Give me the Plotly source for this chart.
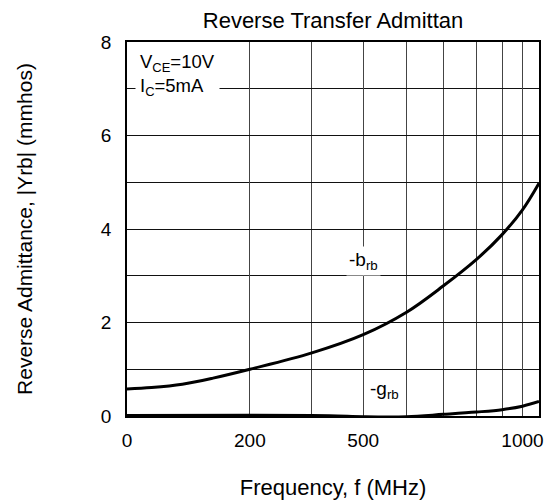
import numpy as np
import plotly.graph_objects as go

# Non-uniform frequency scale of the original chart (gridline frequencies and their relative positions)
grid_freq = [0, 200, 300, 500, 600, 700, 800, 900, 1000, 1100]
grid_pos = [0, 0.2983, 0.4487, 0.5733, 0.6785, 0.7673, 0.8483, 0.9104, 0.9599, 1.0]
x_tick_freq = [0, 200, 500, 1000]
x_tick_text = ["0", "200", "500", "1000"]

# -b_rb curve (mmhos)
freq_b = [0, 40, 90, 140, 200, 300, 500, 600, 700, 800, 900, 1000, 1100]
brb = [0.58, 0.61, 0.68, 0.81, 1.0, 1.35, 1.74, 2.22, 2.78, 3.35, 3.88, 4.41, 4.98]

# -g_rb curve (mmhos)
freq_g = [0, 200, 300, 400, 500, 600, 700, 800, 900, 1000, 1100]
grb = [0.01, 0.015, 0.01, 0.0, -0.015, -0.015, 0.035, 0.085, 0.135, 0.21, 0.31]


def fscale(f):
    return np.interp(f, grid_freq, grid_pos)


FONT = "Liberation Sans, Arial, sans-serif"

fig = go.Figure()
fig.add_trace(go.Scatter(x=fscale(freq_b), y=brb, mode="lines",
                         line=dict(color="black", width=3, shape="spline", smoothing=1.0),
                         showlegend=False, hoverinfo="skip"))
fig.add_trace(go.Scatter(x=fscale(freq_g), y=grb, mode="lines",
                         line=dict(color="black", width=3, shape="spline"),
                         showlegend=False, hoverinfo="skip", cliponaxis=False))

# page body adds an 8px offset, so the figure is 8px smaller on each axis
fig.update_layout(
    width=544, height=492,
    margin=dict(l=119, r=13, t=34, b=84, autoexpand=False),
    paper_bgcolor="white", plot_bgcolor="white",
    font=dict(family=FONT, size=18, color="black"),
    title=dict(text="Reverse Transfer Admittan", xref="paper", x=0.5, xanchor="center",
               yref="container", y=0.9756, yanchor="middle", font=dict(size=22)),
    showlegend=False,
)

fig.update_xaxes(
    range=[0, 1], tickmode="array", tickvals=list(fscale(x_tick_freq)), ticktext=x_tick_text,
    showgrid=True, gridcolor="#444", gridwidth=1,
    minor=dict(tickmode="array", tickvals=list(fscale(grid_freq)), showgrid=True,
               gridcolor="#444", gridwidth=1, ticks=""),
    showline=True, linecolor="black", linewidth=1.5, mirror=True,
    zeroline=False, ticks="", ticklabelstandoff=6,
    title=dict(text="Frequency, f (MHz)", standoff=30, font=dict(size=22)),
    tickfont=dict(size=19),
)
fig.update_yaxes(
    range=[0, 8], dtick=2, tick0=0,
    showgrid=True, gridcolor="#111", gridwidth=1,
    minor=dict(dtick=1, showgrid=True, gridcolor="#111", gridwidth=1, ticks=""),
    showline=True, linecolor="black", linewidth=1.5, mirror=True,
    zeroline=False, ticks="", ticklabelstandoff=10,
    title=dict(text="Reverse Admittance, |Yrb| (mmhos)", standoff=63, font=dict(size=21)),
    tickfont=dict(size=19),
)

fig.add_annotation(
    xref="paper", yref="paper", x=0.019, y=0.99, xanchor="left", yanchor="top",
    text="V<sub>CE</sub>=10V<br>I<sub>C</sub>=5mA", align="left", showarrow=False,
    bgcolor="white", borderpad=4, font=dict(size=18.5),
)
fig.add_annotation(
    x=float(fscale(500)), y=3.31, xref="x", yref="y",
    text="-b<sub>rb</sub>", showarrow=False, bgcolor="white", borderpad=2,
    font=dict(size=19),
)
fig.add_annotation(
    x=float(fscale(550)), y=0.55, xref="x", yref="y",
    text="-g<sub>rb</sub>", showarrow=False, font=dict(size=19),
)

fig.write_html("out.html")
